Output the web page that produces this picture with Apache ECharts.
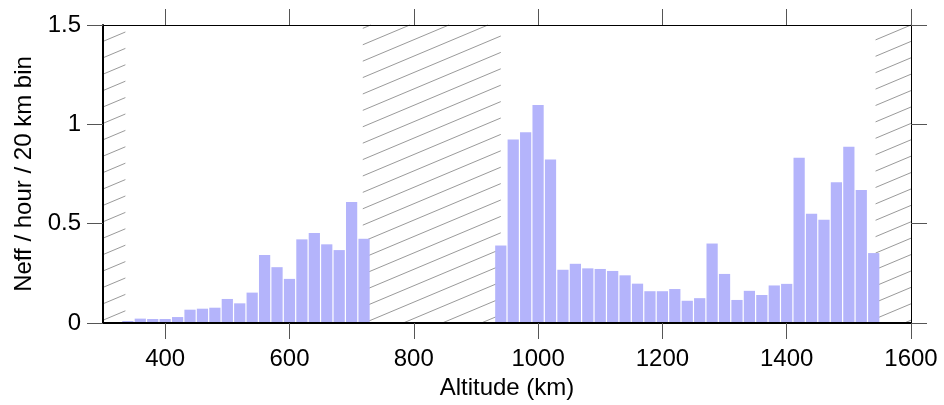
<!DOCTYPE html>
<html>
<head>
<meta charset="utf-8">
<script src="https://cdn.jsdelivr.net/npm/echarts@6/dist/echarts.min.js"></script>
<style>
html,body{margin:0;padding:0;background:#fff;}
#chart{width:944px;height:405px;}
</style>
</head>
<body>
<div id="chart"></div>
<script>
// ---- data ----
const altitudes1 = [340, 360, 380, 400, 420, 440, 460, 480, 500, 520, 540, 560, 580, 600, 620, 640, 660, 680, 700, 720];
const neff1 = [0.01, 0.022, 0.02, 0.02, 0.03, 0.067, 0.072, 0.077, 0.121, 0.099, 0.153, 0.342, 0.281, 0.222, 0.421, 0.453, 0.396, 0.367, 0.609, 0.424];
const altitudes2 = [940, 960, 980, 1000, 1020, 1040, 1060, 1080, 1100, 1120, 1140, 1160, 1180, 1200, 1220, 1240, 1260, 1280, 1300, 1320, 1340, 1360, 1380, 1400, 1420, 1440, 1460, 1480, 1500, 1520, 1540];
const neff2 = [0.39, 0.924, 0.96, 1.097, 0.823, 0.268, 0.298, 0.275, 0.272, 0.262, 0.24, 0.198, 0.16, 0.16, 0.171, 0.112, 0.125, 0.40, 0.247, 0.116, 0.162, 0.141, 0.189, 0.197, 0.832, 0.55, 0.52, 0.709, 0.887, 0.67, 0.352];
const binWidth = 20;
const hatchFrom = [300, 718, 1543];
const hatchTo = [336, 940, 1600];
const xTicks = [400, 600, 800, 1000, 1200, 1400, 1600];
const xMin = 300, xMax = 1600;
const yMin = 0, yMax = 1.5, yStep = 0.5;
const xTitle = 'Altitude (km)';
const yTitle = 'Neff / hour / 20 km bin';

// ---- style ----
const FONT = '"Liberation Sans", Arial, sans-serif';
const barColor = '#b4b4fb';
const hatchOffsets = [7, 11, 0];

const barData = [];
altitudes1.forEach((a, i) => barData.push([a, neff1[i]]));
altitudes2.forEach((a, i) => barData.push([a, neff2[i]]));
const hatchData = hatchFrom.map((s, i) => [s, hatchTo[i], 0]);

const chart = echarts.init(document.getElementById('chart'), null, {renderer: 'canvas'});

const tickStyle = {show: true, inside: false, length: 16, lineStyle: {color: '#555', width: 1}};
const plain = v => String(v);

chart.setOption({
  animation: false,
  backgroundColor: '#fff',
  grid: {left: 103, right: 33, top: 25, bottom: 82, containLabel: false},
  xAxis: [{
    type: 'value', position: 'bottom', min: xMin, max: xMax, interval: 100, z: 10,
    splitLine: {show: false},
    axisLine: {show: true, onZero: false, lineStyle: {color: '#000', width: 2}},
    axisTick: Object.assign({customValues: xTicks}, tickStyle),
    axisLabel: {customValues: xTicks, formatter: plain, fontSize: 24, fontFamily: FONT, color: '#000', margin: 24},
    name: xTitle, nameLocation: 'middle', nameGap: 53,
    nameTextStyle: {fontSize: 24, fontFamily: FONT, color: '#000'}
  }, {
    type: 'value', position: 'top', min: xMin, max: xMax, interval: 100, z: 10,
    splitLine: {show: false},
    axisLine: {show: true, onZero: false, lineStyle: {color: '#000', width: 1}},
    axisTick: Object.assign({customValues: xTicks}, tickStyle),
    axisLabel: {show: false}
  }],
  yAxis: [{
    type: 'value', position: 'left', min: yMin, max: yMax, interval: yStep, z: 10,
    splitLine: {show: false},
    axisLine: {show: true, onZero: false, lineStyle: {color: '#000', width: 2}},
    axisTick: tickStyle,
    axisLabel: {formatter: plain, fontSize: 24, fontFamily: FONT, color: '#000', margin: 22},
    name: yTitle, nameLocation: 'middle', nameGap: 64, nameRotate: 90,
    nameTextStyle: {fontSize: 24, fontFamily: FONT, color: '#000'}
  }, {
    type: 'value', position: 'right', min: yMin, max: yMax, interval: yStep, z: 10,
    splitLine: {show: false},
    axisLine: {show: true, onZero: false, lineStyle: {color: '#000', width: 1}},
    axisTick: tickStyle,
    axisLabel: {show: false}
  }],
  series: [{
    type: 'custom',
    silent: true,
    z: 1,
    data: hatchData,
    encode: {x: [0, 1], y: 2},
    renderItem: function (params, api) {
      const p0 = api.coord([api.value(0), yMax]);
      const p1 = api.coord([api.value(1), yMin]);
      const xa = p0[0], xb = p1[0], yt = p0[1], yb = p1[1];
      const slope = 0.42, gap = 16.4;
      const c0 = yt + slope * xb + hatchOffsets[params.dataIndex];
      const cmin = yt + slope * xa, cmax = yb + slope * xb;
      let c = c0 - Math.ceil((c0 - cmin) / gap) * gap;
      const children = [];
      for (; c <= cmax; c += gap) {
        const xl = Math.max(xa, (c - yb) / slope);
        const xr = Math.min(xb, (c - yt) / slope);
        if (xr > xl + 0.5) {
          children.push({
            type: 'line',
            shape: {x1: xl, y1: c - slope * xl, x2: xr, y2: c - slope * xr},
            style: {stroke: '#9a9a9a', lineWidth: 1}
          });
        }
      }
      return {type: 'group', children: children};
    }
  }, {
    type: 'custom',
    silent: true,
    z: 2,
    data: barData,
    encode: {x: 0, y: 1},
    renderItem: function (params, api) {
      const x = api.value(0), v = api.value(1);
      const a = api.coord([x - binWidth / 2, v]);
      const b = api.coord([x + binWidth / 2, 0]);
      return {
        type: 'rect',
        shape: {x: a[0] + 0.6, y: a[1], width: b[0] - a[0] - 1.2, height: b[1] - a[1]},
        style: {fill: barColor}
      };
    }
  }]
});
</script>
</body>
</html>
